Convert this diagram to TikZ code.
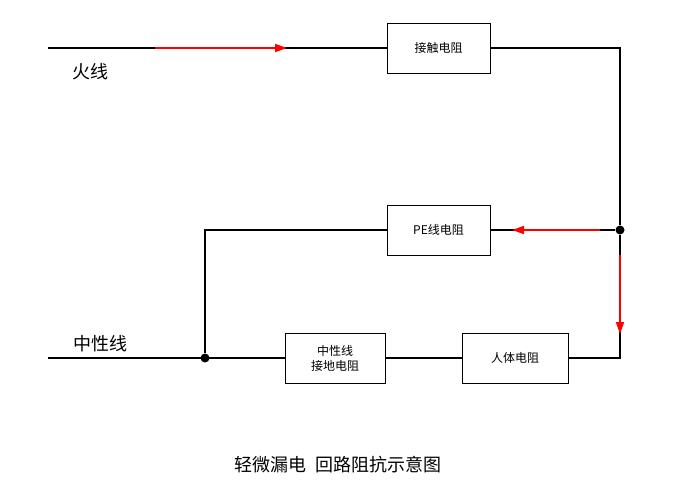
\documentclass[tikz,border=0pt]{standalone}
\usepackage{fontspec}
\setmainfont{Noto Sans CJK SC}
\usetikzlibrary{arrows.meta}
\begin{document}
\begin{tikzpicture}[x=1pt,y=-1pt,
  res/.style={draw,line width=1pt,minimum width=103pt,minimum height=50pt,font=\fontsize{12}{15}\selectfont,align=center},
  wire/.style={line width=1.2pt},
  cur/.style={red,line width=1.5pt,-{Triangle[length=12pt,width=8pt]}},
  dot/.style={circle,fill,inner sep=0pt,minimum size=9pt}]
\useasboundingbox (0,0) rectangle (689,490);
\node[res] (kc) at (438.5,48) {接触电阻};
\node[res] (pe) at (438.5,230) {PE线电阻};
\node[res,minimum width=100pt] (zx) at (335,358) {中性线\\接地电阻};
\node[res,minimum width=106pt] (rt) at (515,358) {人体电阻};
\node[dot] (d1) at (620,230) {};
\node[dot] (d2) at (205,358) {};
\coordinate (fs) at (48,48);
\coordinate (ns) at (48,358);
\coordinate (c1) at (620,48);
\coordinate (c2) at (620,358);
\coordinate (c3) at (205,230);
\draw[wire] (fs) -- (kc.west);
\draw[wire] (kc.east) -- (c1) -- (d1) -- (c2) -- (rt.east);
\draw[wire] (d1) -- (pe.east);
\draw[wire] (pe.west) -- (c3) -- (d2);
\draw[wire] (ns) -- (zx.west);
\draw[wire] (zx.east) -- (rt.west);
\coordinate (a1) at (155,48); \coordinate (a2) at (287,48);
\coordinate (b1) at (600,230); \coordinate (b2) at (512,230);
\coordinate (e1) at (620,255); \coordinate (e2) at (620,334);
\draw[cur] (a1) -- (a2);
\draw[cur] (b1) -- (b2);
\draw[cur] (e1) -- (e2);
\node[font=\fontsize{18}{20}\selectfont] (hx) at (90,72) {火线};
\node[font=\fontsize{18}{20}\selectfont] (zxl) at (100,344) {中性线};
\node[font=\fontsize{18}{20}\selectfont] (cap) at (338,465) {轻微漏电\ \ 回路阻抗示意图};
\end{tikzpicture}
\end{document}
